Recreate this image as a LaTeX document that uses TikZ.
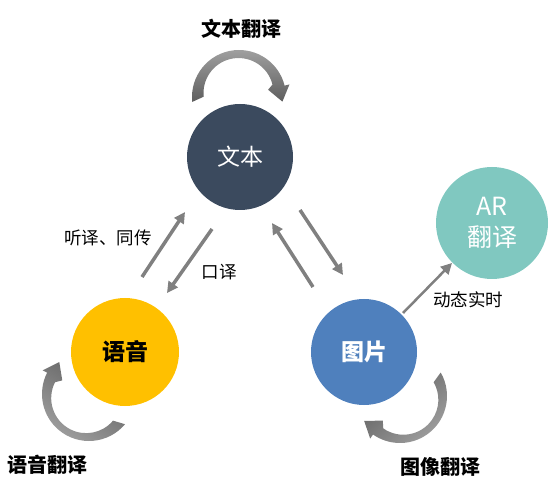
\documentclass[tikz,border=0pt]{standalone}
\usepackage{fontspec}
\setmainfont{Noto Sans CJK SC}
\usetikzlibrary{arrows.meta,calc}
\definecolor{textnavy}{HTML}{3B4A5E}
\definecolor{voiceyellow}{HTML}{FFC000}
\definecolor{imageblue}{HTML}{4F80BD}
\definecolor{arteal}{HTML}{80C8C0}
\definecolor{arrowgray}{HTML}{808080}
\definecolor{looplight}{HTML}{A2A2A2}
\definecolor{loopdark}{HTML}{5E5E5E}
\tikzset{
  ball/.style={circle,minimum size=#1,inner sep=0pt},
  thinarrow/.style={draw=arrowgray,line width=3.5pt,-{Triangle[length=11pt,width=11pt]}},
  loopshade/.style={top color=looplight,bottom color=loopdark},
  biglabel/.style={font=\fontsize{20}{24}\selectfont\bfseries},
  smalllabel/.style={font=\fontsize{17.5}{21}\selectfont}
}
\begin{document}
\begin{tikzpicture}[x=1pt,y=1pt]
                \useasboundingbox (0,0) rectangle (554,485);
                % circles
                \node[ball=106,fill=textnavy,text=white,font=\fontsize{23}{27}\selectfont] (wenben) at (240,328) {文本};
                \node[ball=108,fill=voiceyellow,text=black,font=\fontsize{23}{27}\selectfont\bfseries] (yuyin) at (125,133) {语音};
                \node[ball=106,fill=imageblue,text=white,font=\fontsize{23}{27}\selectfont\bfseries] (tupian) at (364,133) {图片};
                \node[ball=112,fill=arteal,text=white,align=center,font=\fontsize{25}{31}\selectfont] (ar) at (492,262) {AR\\翻译};
                % arrow ends
                \coordinate (a1s) at ($(yuyin)+(17,75)$);
                \coordinate (a1e) at ($(wenben)+(-55,-55)$);
                \coordinate (a2s) at ($(wenben)+(-28,-72)$);
                \coordinate (a2e) at ($(yuyin)+(42,59)$);
                \coordinate (a3s) at ($(tupian)+(-51,65)$);
                \coordinate (a3e) at ($(wenben)+(32,-66)$);
                \coordinate (a4s) at ($(wenben)+(60,-53)$);
                \coordinate (a4e) at ($(tupian)+(-21,77)$);
                \coordinate (a5s) at ($(tupian)+(39,39)$);
                \coordinate (a5e) at ($(ar)+(-40,-40)$);
                \draw[thinarrow] (a1s) -- (a1e);
                \draw[thinarrow] (a2s) -- (a2e);
                \draw[thinarrow] (a3s) -- (a3e);
                \draw[thinarrow] (a4s) -- (a4e);
                \draw[thinarrow,line width=2.5pt] (a5s) -- (a5e);
                % loops: outer arc, head, inner arc (shifted centre)
                \coordinate (c1) at ($(wenben)+(-1,60)$);
                \coordinate (c1i) at ($(c1)+(97:4)$);
                \coordinate (c2) at ($(yuyin)+(-36,-42)$);
                \coordinate (c2i) at ($(c2)+(-124:5)$);
                \coordinate (c3) at ($(tupian)+(36,-44)$);
                \coordinate (c3i) at ($(c3)+(-48:5)$);
                \shade[loopshade,shading angle=0] ($(c1)+(186:47)$) arc[start angle=186,end angle=14,radius=47]
                  -- ($(c1)+(14:52)$) -- ($(c1)+(14:41)+(-76:15)$) -- ($(c1)+(14:30)$)
                  -- ($(c1i)+(14:35)$) arc[start angle=14,end angle=186,radius=35] -- cycle;
                \shade[loopshade,shading angle=146] ($(c2)+(-40:47)$) arc[start angle=-40,end angle=-207,radius=47]
                  -- ($(c2)+(-207:52)$) -- ($(c2)+(-207:41)+(-297:15)$) -- ($(c2)+(-207:30)$)
                  -- ($(c2i)+(-207:35)$) arc[start angle=-207,end angle=-40,radius=35] -- cycle;
                \shade[loopshade,shading angle=221] ($(c3)+(30:47)$) arc[start angle=30,end angle=-125,radius=47]
                  -- ($(c3)+(-125:52)$) -- ($(c3)+(-125:41)+(-215:15)$) -- ($(c3)+(-125:30)$)
                  -- ($(c3i)+(-125:35)$) arc[start angle=-125,end angle=30,radius=35] -- cycle;
                % labels
                \node[biglabel] (wbfy) at (241,456) {文本翻译};
                \node[biglabel] (yyfy) at (47,20) {语音翻译};
                \node[biglabel] (txfy) at (440,18) {图像翻译};
                \node[smalllabel] (tyct) at (108,247) {听译、同传};
                \node[smalllabel] (ky) at (219,213) {口译};
                \node[smalllabel] (dtss) at (468,185) {动态实时};
\end{tikzpicture}
\end{document}
